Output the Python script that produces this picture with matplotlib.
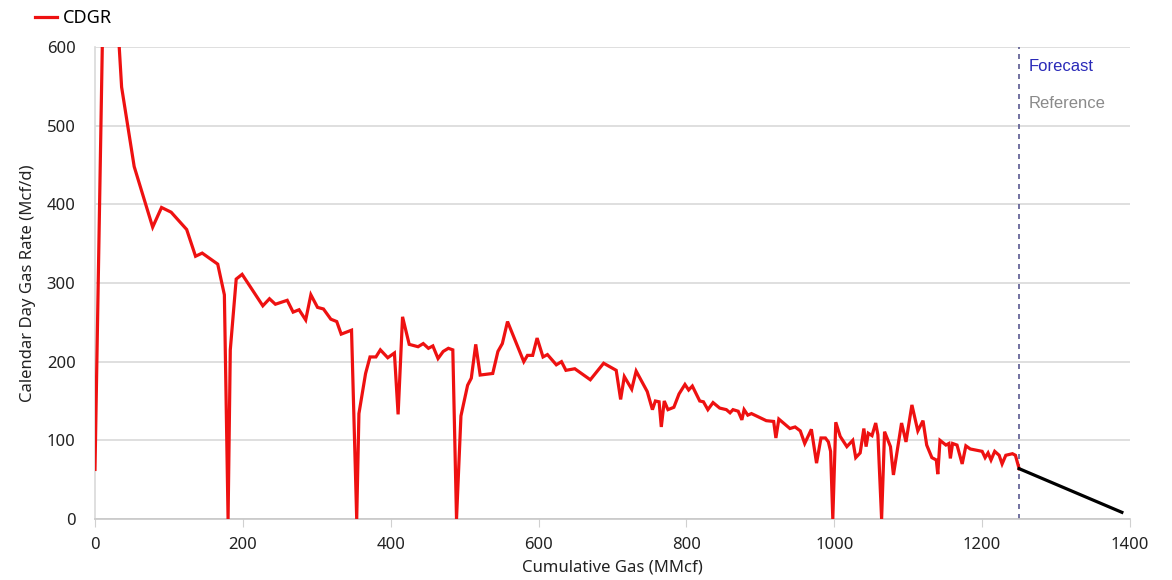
import matplotlib
matplotlib.use("Agg")
import matplotlib.pyplot as plt

plt.rcParams['font.family'] = ['Noto Sans', 'DejaVu Sans']

cum_gas = [0, 15, 36, 53, 78, 90, 103, 124, 136, 145, 166, 175, 180, 183, 191, 199,
           227, 236, 244, 260, 268, 276, 285, 292, 301, 309, 319, 327, 333, 347, 354,
           357, 366, 372, 380, 386, 396, 405, 410, 416, 425, 437, 444, 451, 457, 464,
           471, 478, 484, 489, 495, 504, 509, 515, 521, 538, 545, 551, 558, 580, 585,
           592, 598, 606, 612, 624, 631, 637, 649, 670, 688, 705, 711, 716, 726, 732,
           747, 754, 758, 763, 766, 770, 775, 783, 790, 798, 803, 808, 818, 823, 829,
           836, 845, 854, 859, 863, 870, 875, 878, 883, 888, 908, 918, 921, 925, 940,
           947, 954, 960, 969, 976, 982, 988, 992, 995, 998, 1002, 1008, 1017, 1025,
           1029, 1035, 1040, 1043, 1046, 1051, 1056, 1059, 1064, 1068, 1076, 1080,
           1091, 1097, 1105, 1113, 1120, 1125, 1132, 1138, 1140, 1143, 1151, 1155,
           1157, 1160, 1166, 1173, 1178, 1184, 1200, 1204, 1208, 1212, 1217, 1223,
           1227, 1232, 1241, 1245, 1250]
cdgr = [63, 880, 549, 448, 371, 396, 390, 368, 334, 338, 324, 285, 0, 215, 305, 311,
        271, 280, 273, 278, 263, 266, 253, 285, 269, 267, 254, 251, 235, 240, 0,
        134, 185, 206, 206, 215, 205, 211, 133, 257, 222, 219, 223, 217, 220, 204,
        213, 217, 215, 0, 131, 170, 179, 222, 183, 185, 213, 223, 251, 200, 208,
        208, 230, 206, 209, 196, 200, 189, 191, 177, 198, 189, 152, 181, 165, 188,
        162, 139, 150, 149, 117, 150, 139, 142, 159, 171, 164, 169, 150, 149, 139,
        148, 141, 139, 135, 139, 137, 126, 139, 132, 134, 125, 124, 103, 127, 115,
        117, 112, 96, 114, 71, 103, 103, 98, 86, 0, 123, 105, 92, 100,
        78, 84, 115, 92, 109, 106, 122, 107, 0, 111, 92, 56,
        122, 98, 145, 112, 125, 94, 78, 75, 57, 100, 94, 96,
        77, 96, 94, 70, 93, 89, 86, 78, 84, 75, 86, 81,
        70, 81, 83, 81, 64]

forecast_x = [1250, 1389]
forecast_y = [64, 8.5]
forecast_start = 1250

x_ticks = [0, 200, 400, 600, 800, 1000, 1200, 1400]
y_ticks = [0, 100, 200, 300, 400, 500, 600]

fig = plt.figure(figsize=(11.72, 5.8), dpi=100)
ax = fig.add_axes([95/1172, 1 - 519/580, (1130-95)/1172, (519-47)/580])

ax.plot(cum_gas, cdgr, color='#ee1111', lw=2.3, label='CDGR', zorder=3, solid_joinstyle='miter')
ax.plot(forecast_x, forecast_y, color='black', lw=2.3, zorder=3)
ax.axvline(forecast_start, color='#5a5a90', lw=1.2, ls=(0, (3, 3)), zorder=2)

ax.text(1263, 575, 'Forecast', color='#2a2ab8', fontsize=12, va='center', ha='left',
        family=['Liberation Sans', 'DejaVu Sans'])
ax.text(1263, 528, 'Reference', color='#8a8a8a', fontsize=12, va='center', ha='left',
        family=['Liberation Sans', 'DejaVu Sans'])

ax.set_xlim(0, 1400)
ax.set_ylim(0, 600)
ax.set_xticks(x_ticks)
ax.set_yticks(y_ticks)
ax.grid(axis='y', color='#d9d9d9', lw=1.2)
ax.set_axisbelow(True)
for s in ['top', 'right']:
    ax.spines[s].set_visible(False)
ax.spines['left'].set_color('#d9d9d9')
ax.spines['bottom'].set_color('#c8c8c8')
ax.spines['left'].set_linewidth(1.2)
ax.spines['bottom'].set_linewidth(1.2)
ax.tick_params(axis='x', length=6, color='#d0d0d0', labelsize=12, labelcolor='#222222', pad=7)
ax.tick_params(axis='y', length=0, labelsize=12, labelcolor='#222222', pad=14)

ax.set_xlabel('Cumulative Gas (MMcf)', fontsize=12, color='#222222', labelpad=5)
ax.set_ylabel('Calendar Day Gas Rate (Mcf/d)', fontsize=12, color='#222222', labelpad=8)

ax.legend(loc='upper left', bbox_to_anchor=(26/1172, 1.0), bbox_transform=fig.transFigure,
          frameon=False, fontsize=13, handlelength=1.2, handletextpad=0.35, borderaxespad=0.1)

fig.savefig('out.png', dpi=100)
